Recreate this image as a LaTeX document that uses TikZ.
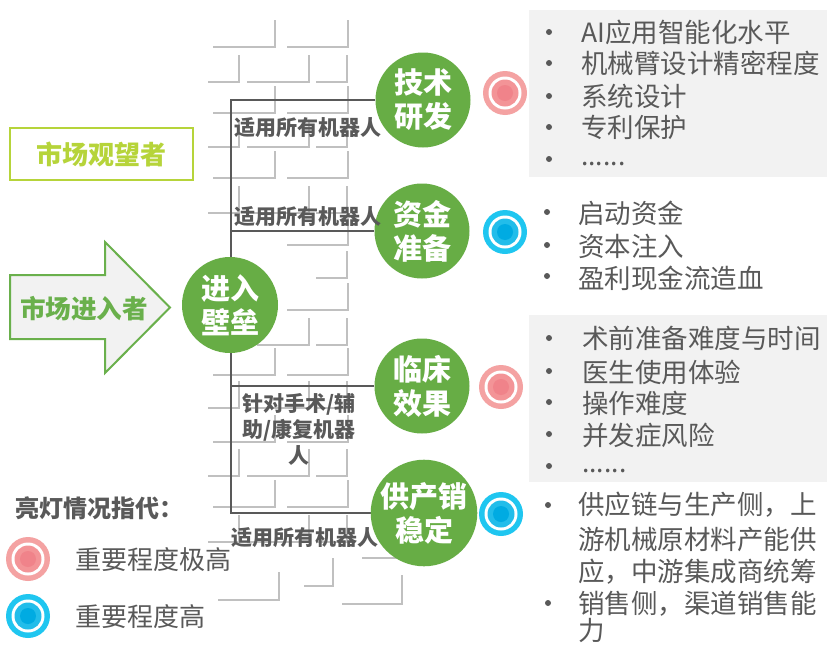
\documentclass[tikz,border=0pt]{standalone}
\usepackage{fontspec}
\setmainfont{Noto Sans CJK SC}
\usetikzlibrary{backgrounds}
\definecolor{cgreen}{HTML}{67AD45}
\definecolor{agreen}{HTML}{6AB04C}
\definecolor{lime}{HTML}{B6D43A}
\definecolor{tgray}{HTML}{595959}
\definecolor{brickgray}{HTML}{C0C0C0}
\definecolor{boxgray}{HTML}{F2F2F2}
\definecolor{pinkO}{HTML}{F4A2A2}
\definecolor{pinkI}{HTML}{F39497}
\definecolor{pinkC}{HTML}{F0838A}
\definecolor{blueO}{HTML}{1FC6F0}
\definecolor{blueI}{HTML}{22BDEA}
\definecolor{blueC}{HTML}{00ABE2}
\begin{document}
\begin{tikzpicture}[x=1pt,y=-1pt,
  brick/.style={draw=brickgray, line width=2.6pt},
  conn/.style={draw=tgray, line width=1.8pt},
  bigc/.style={circle, fill=cgreen, minimum size=95pt, inner sep=0pt, text=white,
    font=\bfseries\fontsize{29}{34}\selectfont, align=center},
  lbl/.style={text=tgray, font=\bfseries\fontsize{21}{26}\selectfont, inner sep=0pt, align=center},
  item/.style={anchor=west, text=tgray, font=\fontsize{26.5}{32}\selectfont, inner sep=0pt},
  bul/.style={fill=tgray},
  ringpink/.pic={\fill[pinkO] (0,0) circle (22pt); \fill[white] (0,0) circle (16.5pt);
    \fill[pinkI] (0,0) circle (13.5pt); \fill[pinkC] (0,0) circle (8pt);},
  ringblue/.pic={\fill[blueO] (0,0) circle (22pt); \fill[white] (0,0) circle (16.5pt);
    \fill[blueI] (0,0) circle (13.5pt); \fill[blueC] (0,0) circle (8pt);}
]
\useasboundingbox (0,0) rectangle (827,645);

% ---- circles ----
\coordinate (sTop) at (231,100);
\coordinate (sBot) at (231,513);
\node[bigc] (tech) at (423,100) {技术\\研发};
\node[bigc] (fund) at (422,231) {资金\\准备};
\node[bigc] (clin) at (422,386) {临床\\效果};
\node[bigc] (supp) at (424,513) {供产销\\稳定};
\node[bigc, minimum size=96pt] (entry) at (230,305) {进入\\壁垒};

\begin{scope}[on background layer]
\fill[white] (0,0) rectangle (827,645);
% ---- brick wall ----
\foreach \yb in {47,113,178,375,442,507}{
  \draw[brick] (213,\yb) -- (275,\yb) -- (275,\yb-27);
  \draw[brick] (287,\yb) -- (348,\yb) -- (348,\yb-27);
}
\foreach \yb in {245,310}{
  \draw[brick] (287,\yb) -- (348,\yb) -- (348,\yb-27);
}
\foreach \yb in {82,147,213,408,476,542}{
  \draw[brick] (208,\yb) -- (239,\yb) -- (239,\yb-27);
  \draw[brick] (247,\yb) -- (309,\yb) -- (309,\yb-27);
  \draw[brick] (316,\yb) -- (347,\yb) -- (347,\yb-27);
}
\draw[brick] (316,278) -- (347,278) -- (347,251);
\draw[brick] (257,345) -- (309,345) -- (309,318);
\draw[brick] (316,345) -- (347,345) -- (347,318);
\draw[brick] (218,600) -- (279,600) -- (279,572);
\draw[brick] (304,586) -- (333,586) -- (333,558);
\draw[brick] (362,558) -- (420,558);
\draw[brick] (342,604) -- (402,604) -- (402,575);
% ---- grey boxes ----
\fill[boxgray] (529,10) rectangle (827,177);
\fill[boxgray] (529,315) rectangle (827,482);
% ---- connectors ----
\draw[conn] (tech.west) -- (sTop) -- (sBot) -- (supp.west);
\draw[conn] (fund.west) -- (fund.west -| sTop);
\draw[conn] (clin.west) -- (clin.west -| sTop);
\end{scope}

% ---- connector labels ----
\node[lbl] (l1) at (307.5,128) {适用所有机器人};
\node[lbl] (l2) at (307.5,217) {适用所有机器人};
\node[lbl] (l3) at (299,429) {针对手术/辅\\助/康复机器\\人};
\node[lbl] (l4) at (304.5,538) {适用所有机器人};

% ---- rings ----
\pic at (505,93) {ringpink};
\pic at (505,232) {ringblue};
\pic at (501,387) {ringpink};
\pic at (501,514) {ringblue};

% ---- list 1 ----
\foreach \yy in {32,63,96,127,159}{ \fill[bul] (549,\yy) circle (3pt); }
\node[item] (a1) at (581,32) {AI应用智能化水平};
\node[item] (a2) at (581,63) {机械臂设计精密程度};
\node[item] (a3) at (581,96) {系统设计};
\node[item] (a4) at (581,127) {专利保护};
\node[item] (a5) at (581,164) {......};
% ---- list 2 ----
\foreach \yy in {212,245,276}{ \fill[bul] (547,\yy) circle (3pt); }
\node[item] (b1) at (578,213) {启动资金};
\node[item] (b2) at (578,246) {资本注入};
\node[item] (b3) at (578,278) {盈利现金流造血};
% ---- list 3 ----
\foreach \yy in {338,371,402,434,466}{ \fill[bul] (549,\yy) circle (3pt); }
\node[item] (c1) at (582,338) {术前准备难度与时间};
\node[item] (c2) at (582,372) {医生使用体验};
\node[item] (c3) at (582,403) {操作难度};
\node[item] (c4) at (582,435) {并发症风险};
\node[item] (c5) at (582,471) {......};
% ---- list 4 ----
\foreach \yy in {505,603}{ \fill[bul] (548,\yy) circle (3pt); }
\node[item] (d1) at (578,505) {供应链与生产侧，上};
\node[item] (d2) at (578,539) {游机械原材料产能供};
\node[item] (d3) at (578,572) {应，中游集成商统筹};
\node[item] (d4) at (578,604) {销售侧，渠道销售能};
\node[item] (d5) at (578,631) {力};

% ---- left side ----
\node[draw=lime, line width=2pt, minimum width=183pt, minimum height=52pt, inner sep=0pt,
  text=lime, font=\bfseries\fontsize{26}{30}\selectfont] (watch) at (101.5,154) {市场观望者};
\draw[agreen, fill=boxgray, line width=2pt, line join=miter]
  (10,275) -- (105,275) -- (105,242) -- (170,307.5) -- (105,373) -- (105,339) -- (10,339) -- cycle;
\node[text=agreen, font=\bfseries\fontsize{25.6}{30}\selectfont, inner sep=0pt] (enter) at (84,309) {市场进入者};

% ---- legend ----
\node[anchor=west, text=tgray, font=\bfseries\fontsize{24}{28}\selectfont, inner sep=0pt] (legt) at (15,508) {亮灯情况指代：};
\pic at (28,559) {ringpink};
\pic at (28,616) {ringblue};
\node[anchor=west, text=tgray, font=\fontsize{26}{30}\selectfont, inner sep=0pt] (leg1) at (75,560) {重要程度极高};
\node[anchor=west, text=tgray, font=\fontsize{26}{30}\selectfont, inner sep=0pt] (leg2) at (75,617) {重要程度高};
\end{tikzpicture}
\end{document}
